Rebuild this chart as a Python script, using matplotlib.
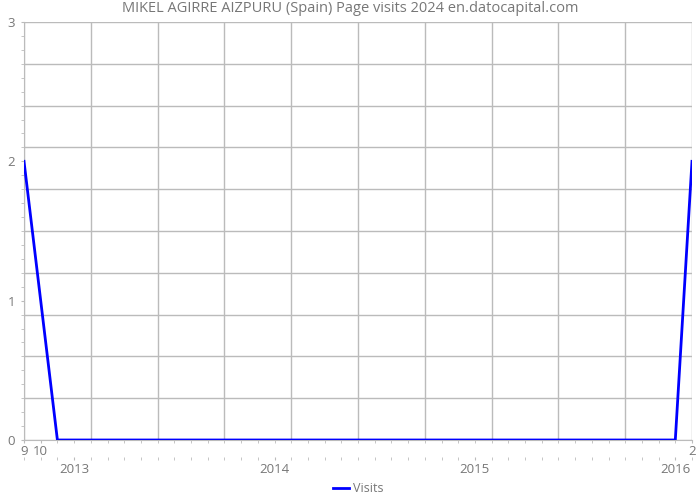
import matplotlib
matplotlib.use('Agg')
import matplotlib.pyplot as plt
from matplotlib.ticker import MultipleLocator, FixedLocator
import numpy as np

plt.rcParams['font.family'] = ['Open Sans', 'DejaVu Sans']

# monthly points, Sep 2012 .. Jan 2016 (index = months since Sep 2012)
month_idx = [0, 2, 3, 4, 5, 6, 7, 8, 9, 10, 11, 12, 13, 14, 15, 16, 17, 18, 19, 20,
             21, 22, 23, 24, 25, 26, 27, 28, 29, 30, 31, 32, 33, 34, 35, 36, 37, 38, 39, 40]
visits = [2, 0, 0, 0, 0, 0, 0, 0, 0, 0, 0, 0, 0, 0, 0, 0, 0, 0, 0, 0,
          0, 0, 0, 0, 0, 0, 0, 0, 0, 0, 0, 0, 0, 0, 0, 0, 0, 0, 0, 2]

month_tick_pos = [0, 1, 40]
month_tick_labels = ['9', '10', '2']
year_pos = [3, 15, 27, 39]
year_labels = ['2013', '2014', '2015', '2016']

title = 'MIKEL AGIRRE AIZPURU (Spain) Page visits 2024 en.datocapital.com'

GRID = '#bbbbbb'
TXT = '#777777'

fig = plt.figure(figsize=(7, 5), dpi=100)
ax = fig.add_axes([24/700, 60/500, 668/700, 418/500])

ax.set_xlim(0, 40)
ax.set_ylim(0, 3)

# grid: every 4 months and every 0.3 units
for x in range(0, 41, 4):
    ax.axvline(x, color=GRID, lw=1, zorder=1)
for y in np.linspace(0, 3, 11):
    ax.axhline(y, color=GRID, lw=1, zorder=1)

ax.plot(month_idx, visits, color='#0000ff', lw=2, label='Visits', zorder=3)

for s in ['top', 'right']:
    ax.spines[s].set_visible(False)
for s in ['left', 'bottom']:
    ax.spines[s].set_color(GRID)

ax.yaxis.set_major_locator(FixedLocator([0, 1, 2, 3]))
ax.yaxis.set_minor_locator(MultipleLocator(0.1))
ax.tick_params(axis='y', which='both', colors=GRID, labelcolor=TXT, labelsize=9.5, length=2.5, pad=4)

ax.xaxis.set_major_locator(FixedLocator(month_tick_pos))
ax.set_xticklabels(month_tick_labels)
ax.xaxis.set_minor_locator(MultipleLocator(1))
ax.tick_params(axis='x', which='both', colors=GRID, labelcolor=TXT, labelsize=9.5, length=2.5, pad=1)

# second row: years (outward is in points: ~17 px)
ax2 = ax.twiny()
ax2.set_xlim(0, 40)
ax2.xaxis.set_ticks_position('bottom')
ax2.xaxis.set_label_position('bottom')
ax2.spines['bottom'].set_position(('outward', 12.3))
for s in ax2.spines.values():
    s.set_visible(False)
ax2.xaxis.set_major_locator(FixedLocator(year_pos))
ax2.set_xticklabels(year_labels)
ax2.xaxis.set_minor_locator(MultipleLocator(1))
ax2.tick_params(axis='x', which='both', colors=GRID, labelcolor=TXT, labelsize=9.5, length=2.5, pad=1.5)

fig.text(0.5, 0.982, title, ha='center', va='center', color=TXT, fontsize=10.5)

ax.legend(loc='center', bbox_to_anchor=(0.5, -0.117), frameon=False, fontsize=9,
          handlelength=1.3, handletextpad=0.3, labelcolor=TXT)

plt.savefig('out.png', dpi=100)
